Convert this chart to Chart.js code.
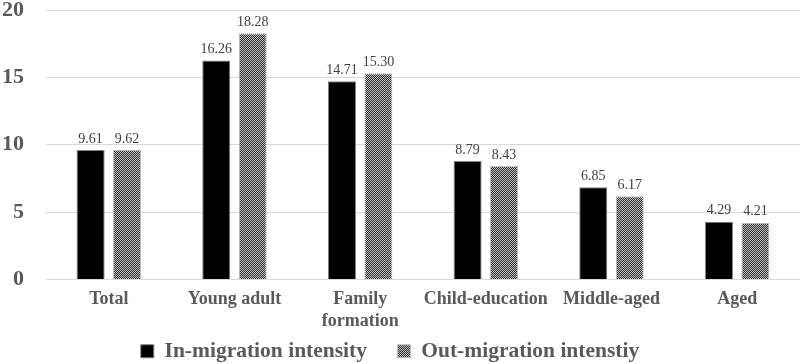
<!DOCTYPE html>
<html>
<head>
<meta charset="utf-8">
<script src="https://cdn.jsdelivr.net/npm/chart.js@4/dist/chart.umd.min.js"></script>
<style>
  html, body { margin: 0; padding: 0; background: #fff; }
  #wrap { width: 800px; height: 364px; }
</style>
</head>
<body>
<div id="wrap"><canvas id="chart"></canvas></div>
<script>
const categories = ['Total', 'Young adult', ['Family', 'formation'], 'Child-education', 'Middle-aged', 'Aged'];
const inMigration = [9.61, 16.26, 14.71, 8.79, 6.85, 4.29];
const outMigration = [9.62, 18.28, 15.30, 8.43, 6.17, 4.21];

function makeHatch() {
  const c = document.createElement('canvas');
  c.width = 4; c.height = 4;
  const g = c.getContext('2d');
  g.fillStyle = '#c0c0c0';
  g.fillRect(0, 0, 4, 4);
  g.fillStyle = '#303030';
  for (let i = 0; i < 4; i++) {
    g.fillRect(i, 3 - i, 1, 1);
    g.fillRect((i + 2) % 4, 3 - i, 1, 1);
  }
  return g.createPattern(c, 'repeat');
}
const hatch = makeHatch();

// value labels above each bar
const valueLabels = {
  id: 'valueLabels',
  afterDatasetsDraw(chart) {
    const ctx = chart.ctx;
    ctx.save();
    ctx.font = '14px "Liberation Serif", "Times New Roman", serif';
    ctx.fillStyle = '#404040';
    ctx.textAlign = 'center';
    ctx.textBaseline = 'bottom';
    chart.data.datasets.forEach((ds, i) => {
      chart.getDatasetMeta(i).data.forEach((bar, j) => {
        ctx.fillText(ds.data[j].toFixed(2), bar.x, bar.y - 4);
      });
    });
    ctx.restore();
  }
};

const serif = '"Liberation Serif", "Times New Roman", serif';

new Chart(document.getElementById('chart'), {
  type: 'bar',
  data: {
    labels: categories,
    datasets: [
      {
        label: 'In-migration intensity',
        data: inMigration,
        backgroundColor: '#000000',
        borderColor: '#7f7f7f',
        borderWidth: 1
      },
      {
        label: 'Out-migration intenstiy',
        data: outMigration,
        backgroundColor: hatch,
        borderColor: '#bfbfbf',
        borderWidth: 1
      }
    ]
  },
  options: {
    responsive: true,
    maintainAspectRatio: false,
    animation: false,
    categoryPercentage: 0.58,
    barPercentage: 0.77,
    layout: { padding: { top: 10, right: 0, left: -20, bottom: -8 } },
    scales: {
      x: {
        grid: { display: false, drawTicks: false },
        border: { color: '#d9d9d9' },
        afterFit(s) {
          s.height = 52;
        },
        ticks: {
          color: '#595959',
          font: { family: serif, size: 18, weight: 'bold', lineHeight: 1.2 },
          maxRotation: 0,
          autoSkip: false,
          padding: 9
        }
      },
      y: {
        min: 0,
        max: 20,
        afterFit(s) {
          s.paddingTop = 0;
          s.paddingBottom = 0;
        },
        ticks: {
          stepSize: 5,
          color: '#595959',
          font: { family: serif, size: 22, weight: 'bold' },
          padding: 22
        },
        grid: { color: '#d9d9d9', drawTicks: false },
        border: { display: false }
      }
    },
    plugins: {
      legend: {
        position: 'bottom',
        labels: {
          color: '#595959',
          font: { family: serif, size: 21.5, weight: 'bold' },
          boxWidth: 13,
          boxHeight: 13,
          padding: 9,
          generateLabels(chart) {
            const items = Chart.defaults.plugins.legend.labels.generateLabels(chart);
            // wider gap after the first entry, as in the original
            items[0].text = items[0].text + '    ';
            return items;
          }
        }
      },
      tooltip: { enabled: false }
    }
  },
  plugins: [valueLabels]
});
</script>
</body>
</html>
